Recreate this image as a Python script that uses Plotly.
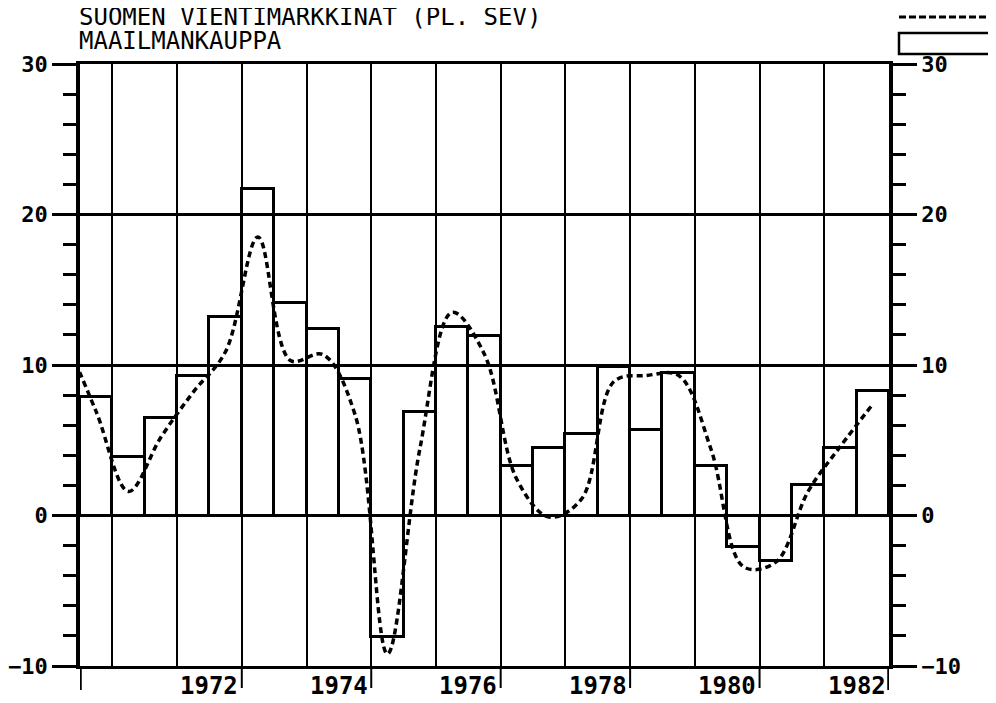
import plotly.graph_objects as go

# Half-year periods (year-half)
bar_periods = ["1970-2",
               "1971-1", "1971-2", "1972-1", "1972-2", "1973-1", "1973-2",
               "1974-1", "1974-2", "1975-1", "1975-2", "1976-1", "1976-2",
               "1977-1", "1977-2", "1978-1", "1978-2", "1979-1", "1979-2",
               "1980-1", "1980-2", "1981-1", "1981-2", "1982-1", "1982-2"]
world_trade = [7.9, 3.9, 6.5, 9.3, 13.2, 21.7, 14.1, 12.4, 9.1, -8.1,
               6.9, 12.5, 11.9, 3.3, 4.5, 5.4, 9.9, 5.7, 9.5, 3.3,
               -2.1, -3.0, 2.0, 4.5, 8.3]

line_periods = ["1970-1"] + bar_periods
export_markets = [12.0, 6.9, 1.6, 5.2, 8.2, 10.9, 18.5, 10.3, 10.7, 6.7,
                  -9.2, 4.4, 13.5, 10.7, 2.4, -0.1, 1.1, 8.9, 9.3, 9.3,
                  4.4, -3.4, -3.1, 1.6, 4.6, 7.4]

year_labels = ["1972", "1974", "1976", "1978", "1980", "1982"]
grid_years = list(range(1971, 1983))
y_ticks = [-10, 0, 10, 20, 30]

title1 = "SUOMEN VIENTIMARKKINAT (PL. SEV)"
title2 = "MAAILMANKAUPPA"


def center(p):
    y, h = p.split("-")
    return int(y) + (int(h) - 1) * 0.5 + 0.25


FONT = "DejaVu Sans Mono"
bx = [center(p) for p in bar_periods]
lx = [center(p) for p in line_periods]

fig = go.Figure()
fig.add_trace(go.Bar(x=bx, y=world_trade, width=0.5,
                     marker=dict(color="rgba(0,0,0,0)",
                                 line=dict(color="black", width=3)),
                     showlegend=False))
fig.add_trace(go.Scatter(x=lx, y=export_markets, mode="lines",
                         line=dict(color="black", width=3.5, shape="spline",
                                   smoothing=1.0, dash="6px,4px"),
                         showlegend=False))
fig.add_trace(go.Scatter(x=[1975], y=[0], yaxis="y2", mode="markers",
                         marker=dict(opacity=0), showlegend=False,
                         hoverinfo="skip"))

X0, X1 = 1970.5, 1983.0
OFF = 8  # page body margin
W, H = 996 - OFF, 703 - OFF
L, T = 80 - OFF, 64 - OFF
R, B = W - (889 - OFF), H - (666 - OFF)
PH = H - T - B
PW = W - L - R


def px(xpage):
    return (xpage - OFF - L) / PW


def py(ypage):
    return (H - B - (ypage - OFF)) / PH


yax = dict(range=[-10, 30], tickvals=y_ticks, ticks="outside", ticklen=24,
           tickwidth=2.5, tickcolor="black", showgrid=True, gridcolor="black",
           gridwidth=2.5, zeroline=True, zerolinecolor="black",
           zerolinewidth=2.5, showline=True, linecolor="black", linewidth=3.5,
           tickfont=dict(family=FONT, size=22, color="black", weight="bold"),
           minor=dict(dtick=2, ticks="outside", ticklen=13, tickwidth=2.5,
                      tickcolor="black", showgrid=False),
           automargin=False, fixedrange=True)

fig.update_layout(
    width=W, height=H,
    margin=dict(l=L, r=R, t=T, b=B, pad=0, autoexpand=False),
    paper_bgcolor="white", plot_bgcolor="white",
    bargap=0,
    xaxis=dict(range=[X0, X1], tickvals=grid_years, showticklabels=False,
               ticks="", showgrid=True, gridcolor="black", gridwidth=1.5,
               zeroline=False, showline=True, mirror=True, linecolor="black",
               linewidth=2.5, automargin=False, fixedrange=True),
    yaxis=yax,
    yaxis2=dict(yax, overlaying="y", side="right", showgrid=False,
                zeroline=False),
)

shapes = []
# x tick marks at year boundaries
for lab in year_labels:
    xe = int(lab) + 1
    shapes.append(dict(type="line", xref="x", yref="paper", x0=xe, x1=xe,
                       y0=0.0, y1=-22 / PH, line=dict(color="black", width=2)))
# axis lines extending below the plot
for xe in (X0, X1):
    shapes.append(dict(type="line", xref="x", yref="paper", x0=xe, x1=xe,
                       y0=0.0, y1=-24 / PH, line=dict(color="black", width=3.5)))
# legend samples
shapes.append(dict(type="line", xref="paper", yref="paper",
                   x0=px(899), x1=px(995), y0=py(17), y1=py(17),
                   line=dict(color="black", width=3, dash="7px,3px")))
shapes.append(dict(type="rect", xref="paper", yref="paper",
                   x0=px(899), x1=px(993), y0=py(54), y1=py(33),
                   line=dict(color="black", width=2.5), fillcolor="white"))
fig.update_layout(shapes=shapes)

ann = []
for lab in year_labels:
    ann.append(dict(x=int(lab) + 0.5, y=py(686), xref="x", yref="paper",
                    text=lab, showarrow=False, xanchor="center",
                    yanchor="middle",
                    font=dict(family=FONT, size=24, color="black",
                              weight="bold")))
ann.append(dict(x=px(77), y=py(17), xref="paper",
                yref="paper", text=title1, showarrow=False, xanchor="left",
                yanchor="middle",
                font=dict(family=FONT, size=24, color="black")))
ann.append(dict(x=px(77), y=py(41), xref="paper",
                yref="paper", text=title2, showarrow=False, xanchor="left",
                yanchor="middle",
                font=dict(family=FONT, size=24, color="black")))
fig.update_layout(annotations=ann)

fig.write_html("out.html")
